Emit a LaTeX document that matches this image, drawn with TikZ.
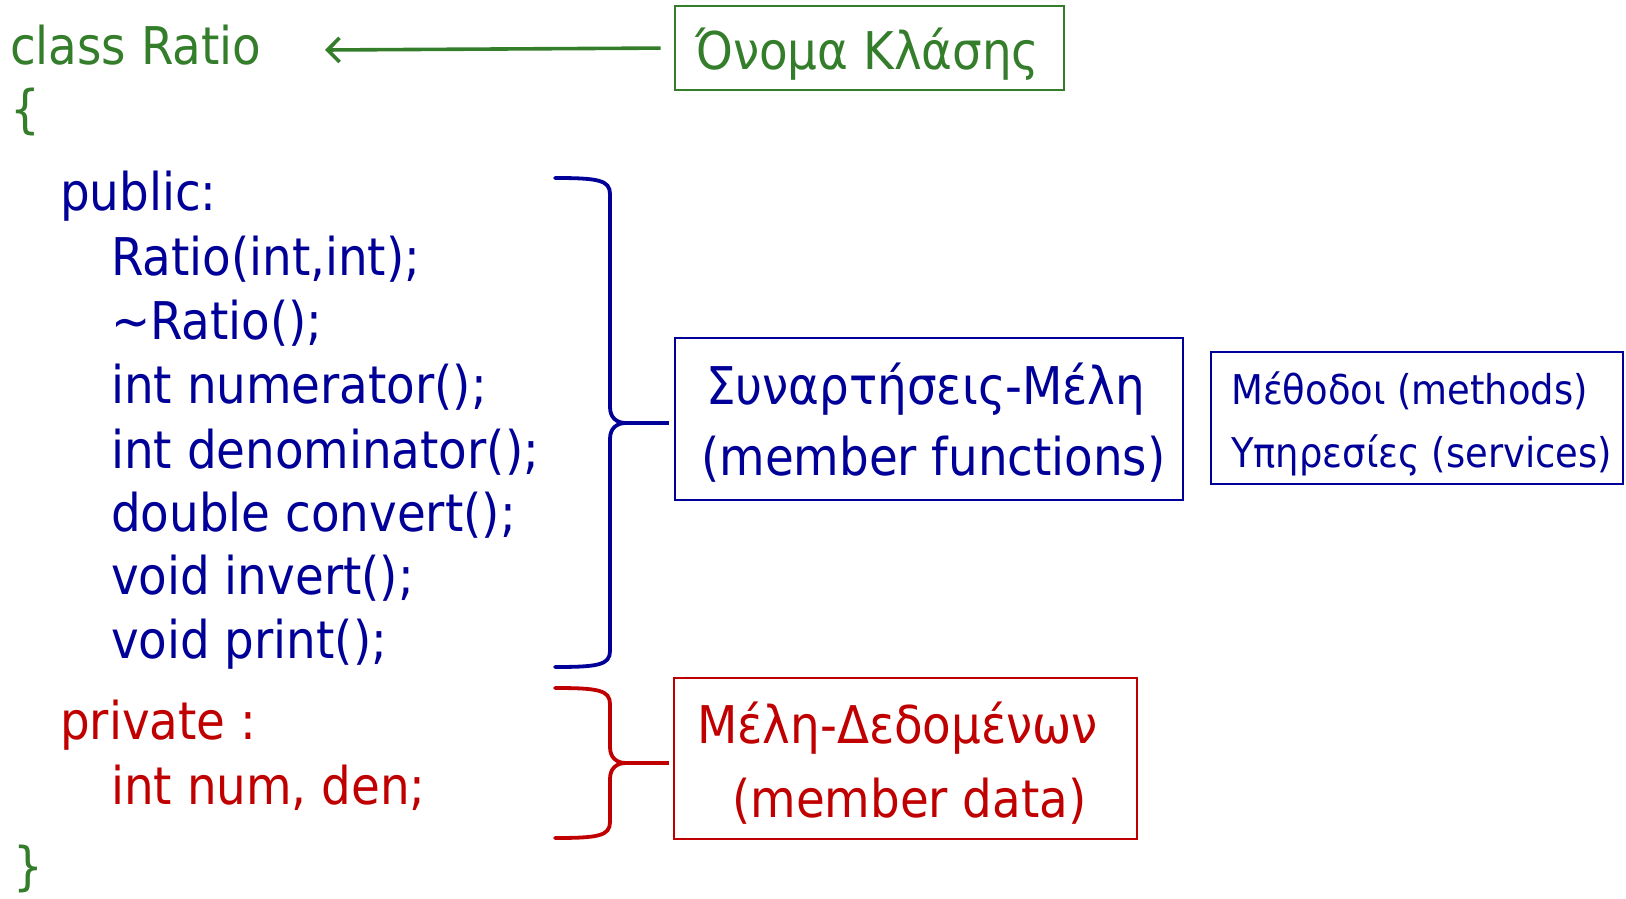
\documentclass[tikz,border=0pt]{standalone}
\usepackage{fontspec}
\setmainfont{DejaVu Sans Condensed}
\usetikzlibrary{arrows.meta}
\definecolor{clsgreen}{RGB}{51,125,43}
\definecolor{memblue}{RGB}{0,0,153}
\definecolor{datared}{RGB}{192,0,0}
% curly brace opening to the left, pointing right: colour, top y, middle y, bottom y
\newcommand\curlybrace[4]{%
  \draw[#1, line width=3.8pt, line cap=round, line join=round]
    (555,#2) .. controls (598,#2) and (610,#2+2) .. (610,#2+16)
    -- (610,#3-16) .. controls (610,#3-5) and (617,#3) .. (626,#3)
    .. controls (617,#3) and (610,#3+5) .. (610,#3+16)
    -- (610,#4-16) .. controls (610,#4-2) and (598,#4) .. (555,#4);
}
\begin{document}
\begin{tikzpicture}[x=1pt,y=-1pt,
  txt/.style={anchor=base west, inner sep=0pt, font=\fontsize{52}{60}\selectfont},
  small/.style={anchor=base west, inner sep=0pt, font=\fontsize{41}{48}\selectfont},
  frame/.style={draw=#1, line width=2.6pt, inner sep=0pt, fill=none},
  pointer/.style={draw=clsgreen, line width=3.6pt, shorten <=13pt,
    -{Straight Barb[length=12pt,width=24pt]}}]
\useasboundingbox (0,0) rectangle (1626,899);

% class header
\node[txt, text=clsgreen] (cls) at (10,65) {class Ratio};
\node[txt, text=clsgreen] (lbr) at (10,128) {\{};
\node[frame=clsgreen, minimum width=389pt, minimum height=84pt] (namebox) at (869.5,48) {};
\node[txt, text=clsgreen] (nametxt) at (695,70) {Όνομα Κλάσης};
\coordinate (clstip) at (325,50);
\draw[pointer] (namebox.west) -- (clstip);

% public section
\node[txt, text=memblue] (pub) at (60,210) {public:};
\node[txt, text=memblue] (f1) at (111,275) {Ratio(int,int);};
\node[txt, text=memblue] (f2) at (111,339) {\char"7E Ratio();};
\node[txt, text=memblue] (f3) at (111,403) {int numerator();};
\node[txt, text=memblue] (f4) at (111,468) {int denominator();};
\node[txt, text=memblue] (f5) at (111,531) {double convert();};
\node[txt, text=memblue] (f6) at (111,594) {void invert();};
\node[txt, text=memblue] (f7) at (111,658) {void print();};

% private section
\node[txt, text=datared] (priv) at (60,739) {private :};
\node[txt, text=datared] (d1) at (111,804) {int num, den;};
\node[txt, text=clsgreen] (rbr) at (13,884) {\}};

% member functions
\curlybrace{memblue}{178}{423}{667}
\draw[memblue, line width=3.8pt] (626,423) -- (669,423);
\node[frame=memblue, minimum width=508pt, minimum height=162pt] (funbox) at (929,419) {};
\node[txt, text=memblue] (funtxt1) at (706,404) {Συναρτήσεις-Μέλη};
\node[txt, text=memblue] (funtxt2) at (701,475) {(member functions)};

\node[frame=memblue, minimum width=412pt, minimum height=132pt] (svcbox) at (1417,418) {};
\node[small, text=memblue] (svctxt1) at (1231,404) {Μέθοδοι (methods)};
\node[small, text=memblue] (svctxt2) at (1231,467) {Υπηρεσίες (services)};

% member data
\curlybrace{datared}{688}{763}{838}
\draw[datared, line width=3.8pt] (626,763) -- (669,763);
\node[frame=datared, minimum width=463pt, minimum height=161pt] (databox) at (905.5,758.5) {};
\node[txt, text=datared] (datatxt1) at (697,743) {Μέλη-Δεδομένων};
\node[txt, text=datared] (datatxt2) at (732,817) {(member data)};
\end{tikzpicture}
\end{document}
